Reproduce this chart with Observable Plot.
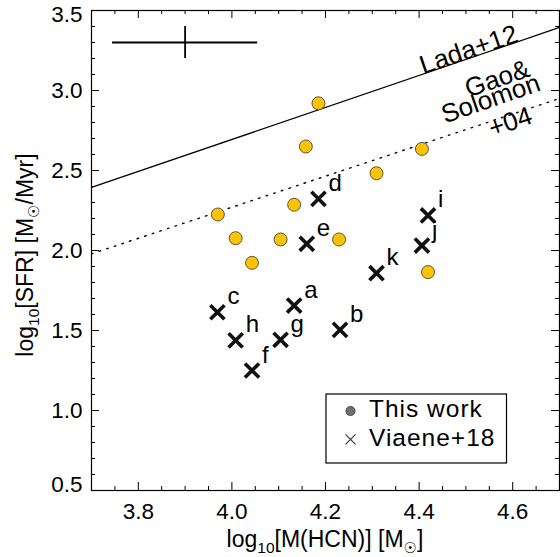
<!DOCTYPE html>
<html>
<head>
<meta charset="utf-8">
<script src="https://cdn.jsdelivr.net/npm/d3@7"></script>
<script src="https://cdn.jsdelivr.net/npm/@observablehq/plot@0.6"></script>
<style>
  html, body { margin: 0; padding: 0; background: #fff; }
  #chart svg { display: block; }
</style>
</head>
<body>
<div id="chart"></div>
<script>
// ---- data ----
// "This work" (yellow circles)
const thisWorkX = [3.970, 4.008, 4.043, 4.104, 4.133, 4.158, 4.185, 4.229, 4.309, 4.406, 4.419];
const thisWorkY = [2.225, 2.077, 1.923, 2.069, 2.286, 2.650, 2.920, 2.069, 2.483, 2.635, 1.865];
// Viaene+18 (black crosses) with their letters
const viaeneLabels = ["a", "b", "c", "d", "e", "f", "g", "h", "i", "j", "k"];
const viaeneX = [4.133, 4.231, 3.969, 4.185, 4.160, 4.043, 4.104, 4.008, 4.419, 4.406, 4.309];
const viaeneY = [1.656, 1.504, 1.614, 2.323, 2.042, 1.250, 1.442, 1.438, 2.219, 2.031, 1.858];
// relations
const relationX = [3.7, 4.7];
const ladaY = [2.394, 3.394];
const gaoY = [1.979, 2.950];
// relation labels
const relLabelText = ["Lada+12", "Gao&", "Solomon", "+04"];
const relLabelX = [4.506, 4.567, 4.553, 4.595];
const relLabelY = [3.254, 3.073, 2.948, 2.802];
// typical error bar
const errCenterX = [3.9];
const errCenterY = [3.3];
const errHalfX = [0.155];
const errHalfY = [0.1];
// ticks
const xMajor = [3.8, 4.0, 4.2, 4.4, 4.6];
const xMinor = [3.75, 3.85, 3.9, 3.95, 4.05, 4.1, 4.15, 4.25, 4.3, 4.35, 4.45, 4.5, 4.55, 4.65];
const yMajor = [0.5, 1.0, 1.5, 2.0, 2.5, 3.0, 3.5];
const yMinor = [0.6, 0.7, 0.8, 0.9, 1.1, 1.2, 1.3, 1.4, 1.6, 1.7, 1.8, 1.9, 2.1, 2.2, 2.3, 2.4,
                2.6, 2.7, 2.8, 2.9, 3.1, 3.2, 3.3, 3.4];
// legend
const legendLabels = ["This work", "Viaene+18"];

// ---- build tables ----
const thisWork = thisWorkX.map((x, i) => ({x, y: thisWorkY[i]}));
const viaene = viaeneX.map((x, i) => ({x, y: viaeneY[i], label: viaeneLabels[i]}));
const lada = relationX.map((x, i) => ({x, y: ladaY[i]}));
const gao = relationX.map((x, i) => ({x, y: gaoY[i]}));
const relLabels = relLabelText.map((t, i) => ({t, x: relLabelX[i], y: relLabelY[i]}));
const errBar = errCenterX.map((x, i) => ({x, y: errCenterY[i], dx: errHalfX[i], dy: errHalfY[i]}));

const W = 560, H = 557;
const mL = 91, mR = 1, mT = 10, mB = 67;
const plotW = W - mL - mR, plotH = H - mT - mB;
const MAJ = 8, MIN = 4;
const FONT = "'Liberation Sans', Arial, Helvetica, sans-serif";
const fmt = d => d.toFixed(1);
const yTop = yMajor[yMajor.length - 1], yBot = yMajor[0];
const yInner = yMajor.filter(v => v !== yTop && v !== yBot);

const svg = Plot.plot({
  width: W, height: H,
  marginLeft: mL, marginRight: mR, marginTop: mT, marginBottom: mB,
  style: {fontFamily: FONT, background: "white", color: "black", overflow: "visible"},
  x: {domain: [3.7, 4.7]},
  y: {domain: [0.5, 3.5]},
  marks: [
    // inward ticks on all four sides
    Plot.tickX(xMajor, {x: d => d, insetTop: plotH - MAJ, strokeWidth: 1}),
    Plot.tickX(xMinor, {x: d => d, insetTop: plotH - MIN, strokeWidth: 1}),
    Plot.tickX(xMajor, {x: d => d, insetBottom: plotH - MAJ, strokeWidth: 1}),
    Plot.tickX(xMinor, {x: d => d, insetBottom: plotH - MIN, strokeWidth: 1}),
    Plot.tickY(yMajor, {y: d => d, insetRight: plotW - MAJ, strokeWidth: 1}),
    Plot.tickY(yMinor, {y: d => d, insetRight: plotW - MIN, strokeWidth: 1}),
    Plot.tickY(yMajor, {y: d => d, insetLeft: plotW - MAJ, strokeWidth: 1}),
    Plot.tickY(yMinor, {y: d => d, insetLeft: plotW - MIN, strokeWidth: 1}),
    // tick labels
    Plot.axisX(xMajor, {anchor: "bottom", tickSize: 0, tickPadding: 13, tickFormat: fmt,
                        fontSize: 22.5, label: null}),
    Plot.axisY(yInner, {anchor: "left", tickSize: 0, tickPadding: 9, tickFormat: fmt,
                        fontSize: 22.5, label: null}),
    Plot.axisY([yTop], {anchor: "left", tickSize: 0, tickPadding: 9, tickFormat: fmt,
                        fontSize: 22.5, label: null, dy: 4}),
    Plot.axisY([yBot], {anchor: "left", tickSize: 0, tickPadding: 9, tickFormat: fmt,
                        fontSize: 22.5, label: null, dy: -6}),
    // relations
    Plot.line(lada, {x: "x", y: "y", stroke: "black", strokeWidth: 1.3}),
    Plot.line(gao, {x: "x", y: "y", stroke: "black", strokeWidth: 1.4, strokeDasharray: "1.6,6.4"}),
    Plot.text(relLabels, {x: "x", y: "y", text: "t", rotate: -19, fontSize: 26,
                          textAnchor: "middle", lineAnchor: "middle", ariaLabel: "rel-label"}),
    // typical error bar
    Plot.ruleY(errBar, {y: "y", x1: d => d.x - d.dx, x2: d => d.x + d.dx, strokeWidth: 1.8}),
    Plot.ruleX(errBar, {x: "x", y1: d => d.y - d.dy, y2: d => d.y + d.dy, strokeWidth: 1.8}),
    // data
    Plot.dot(thisWork, {x: "x", y: "y", r: 6.5, fill: "#FDC300", stroke: "#333", strokeWidth: 0.8}),
    Plot.dot(viaene, {x: "x", y: "y", symbol: "times", r: 6.5, stroke: "#111", strokeWidth: 3.6}),
    Plot.text(viaene, {x: "x", y: "y", text: "label", dx: 10, dy: -8, textAnchor: "start",
                       lineAnchor: "bottom", fontSize: 24}),
    Plot.frame({stroke: "black", strokeWidth: 1.2})
  ]
});

const s = d3.select(svg);
s.selectAll("g[aria-label='rel-label'] text").style("letter-spacing", "1px");

// axis titles with subscripts
const SUN = "\u2609";
const xt = s.append("text").attr("x", 325).attr("y", 547).attr("text-anchor", "middle")
  .attr("font-size", 23).attr("font-family", FONT).attr("fill", "black");
xt.append("tspan").text("log");
xt.append("tspan").attr("font-size", 15.5).attr("dy", 6).text("10");
xt.append("tspan").attr("dy", -6).text("[M(HCN)] [M");
xt.append("tspan").attr("font-size", 15).attr("dy", 6).attr("font-family", "'DejaVu Sans'").text(SUN);
xt.append("tspan").attr("dy", -6).text("]");

const yt = s.append("text").attr("transform", "translate(33,255) rotate(-90)").attr("text-anchor", "middle")
  .attr("font-size", 23).attr("font-family", FONT).attr("fill", "black");
yt.append("tspan").text("log");
yt.append("tspan").attr("font-size", 15.5).attr("dy", 6).text("10");
yt.append("tspan").attr("dy", -6).text("[SFR] [M");
yt.append("tspan").attr("font-size", 15).attr("dy", 6).attr("font-family", "'DejaVu Sans'").text(SUN);
yt.append("tspan").attr("dy", -6).text("/Myr]");

// legend box
const lg = s.append("g").attr("aria-label", "legend");
lg.append("rect").attr("x", 326).attr("y", 394).attr("width", 180.5).attr("height", 69)
  .attr("fill", "white").attr("stroke", "black").attr("stroke-width", 1.2);
lg.append("circle").attr("cx", 350.5).attr("cy", 411).attr("r", 4.6)
  .attr("fill", "#6f6f6f").attr("stroke", "#333").attr("stroke-width", 0.8);
lg.append("path").attr("d", "M345.5,434.3L355.5,444.3M345.5,444.3L355.5,434.3")
  .attr("stroke", "#333").attr("stroke-width", 1.1).attr("fill", "none");
legendLabels.forEach((t, i) => {
  lg.append("text").attr("x", 369).attr("y", 417 + i * 29).attr("font-size", 24.5)
    .attr("text-anchor", "start").attr("font-family", FONT).attr("letter-spacing", "1px")
    .attr("fill", "black").text(t);
});

document.getElementById("chart").appendChild(svg);
</script>
</body>
</html>
